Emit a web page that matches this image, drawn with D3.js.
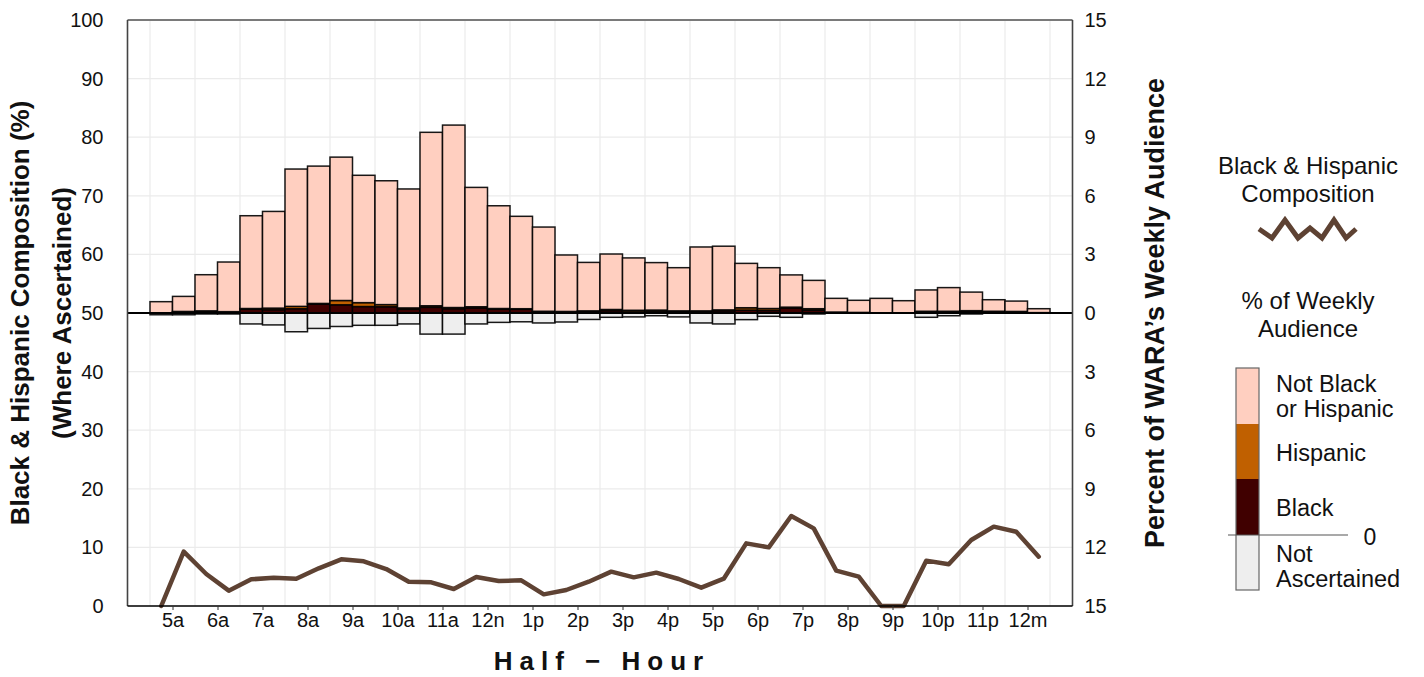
<!DOCTYPE html>
<html><head><meta charset="utf-8">
<script src="https://cdn.jsdelivr.net/npm/d3@7"></script>
<style>
html,body{margin:0;padding:0;background:#fff;}
svg{display:block;font-family:"Liberation Sans",Arial,Helvetica,sans-serif;}
</style></head>
<body>
<svg id="chart" width="1424" height="677"></svg>
<script>
// half-hour slots (start hour, 5 = 5:00a ... 24.5 = 12:30a)
const slots = d3.range(40).map(i => 5 + i * 0.5);
const hourLabels = ["5a","6a","7a","8a","9a","10a","11a","12n","1p","2p","3p","4p","5p","6p","7p","8p","9p","10p","11p","12m"];
const hourTicks = d3.range(5, 25);

// % of weekly audience (right axis)
const black = [0,0.06,0.08,0.06,0.20,0.17,0.22,0.46,0.42,0.33,0.32,0.19,0.29,0.22,0.26,0.20,0.19,0.07,0.06,0.09,
               0.12,0.06,0.08,0.09,0.09,0.11,0.15,0.13,0.26,0.14,0.03,0.02,0,0,0.06,0.07,0.10,0.07,0.06,0.02];
const hispanic = [0,0.02,0.03,0.01,0.03,0.08,0.12,0.03,0.22,0.20,0.11,0.07,0.08,0.06,0.06,0.03,0.03,0.02,0.02,0.02,
               0.06,0.08,0.07,0.02,0.02,0.05,0.12,0.10,0.04,0.08,0.02,0.01,0,0,0.03,0.02,0.02,0.02,0.02,0];
const notBlackHispanic = [0.58,0.77,1.85,2.54,4.75,4.95,7.03,7.03,7.34,6.52,6.34,6.09,8.88,9.34,6.11,5.26,4.73,4.31,2.89,2.48,
               2.84,2.68,2.43,2.21,3.27,3.26,2.27,2.09,1.65,1.45,0.70,0.62,0.75,0.63,1.09,1.21,0.95,0.59,0.53,0.20];
const notAscertained = [0.09,0.09,0.05,0.05,0.56,0.61,0.96,0.79,0.69,0.63,0.63,0.56,1.08,1.08,0.56,0.48,0.45,0.51,0.46,0.33,
               0.22,0.20,0.14,0.20,0.51,0.56,0.34,0.17,0.22,0.05,0,0,0,0,0.22,0.14,0.05,0,0,0];
// Black & Hispanic composition (left axis, %)
const composition = [0,9.27,5.46,2.62,4.55,4.84,4.66,6.43,7.96,7.62,6.31,4.15,4.04,2.90,4.95,4.27,4.38,1.99,2.73,4.15,
               5.86,4.89,5.69,4.61,3.13,4.66,10.69,10.01,15.36,13.25,6.03,5.00,0,0,7.74,7.11,11.26,13.54,12.68,8.42];

const leftTicks = d3.range(0, 101, 10);
const rightTicks = [-15,-12,-9,-6,-3,0,3,6,9,12,15];

const colors = {nbh:"#FFCFC0", hisp:"#C06000", black:"#400000", na:"#EEEEEE", line:"#5E4233"};

const svg = d3.select("#chart");
const L = 127.5, R = 1072.5, T = 20, B = 606;
const x = d3.scaleLinear().domain([4.5, 25.5]).range([L, R]);
const y = d3.scaleLinear().domain([0, 100]).range([B, T]);
const yp = d3.scaleLinear().domain([-15, 15]).range([B, T]);

// grid
const g = svg.append("g");
g.selectAll(".hg").data(leftTicks).join("line")
  .attr("x1", L).attr("x2", R).attr("y1", d => y(d)).attr("y2", d => y(d))
  .attr("stroke", "#ebebeb").attr("stroke-width", 1.2);
g.selectAll(".vg").data(d3.range(5, 26)).join("line")
  .attr("x1", d => x(d)).attr("x2", d => x(d)).attr("y1", T).attr("y2", B)
  .attr("stroke", "#ebebeb").attr("stroke-width", 1.2);

// bars
const bars = svg.append("g");
const bw = x(5.5) - x(5);
slots.forEach((s, i) => {
  const segs = [
    {lo: 0, hi: black[i], c: colors.black},
    {lo: black[i], hi: black[i] + hispanic[i], c: colors.hisp},
    {lo: black[i] + hispanic[i], hi: black[i] + hispanic[i] + notBlackHispanic[i], c: colors.nbh},
    {lo: -notAscertained[i], hi: 0, c: colors.na}
  ].filter(d => d.hi - d.lo > 0);
  bars.selectAll(null).data(segs).join("rect")
    .attr("x", x(s)).attr("width", bw)
    .attr("y", d => yp(d.hi)).attr("height", d => yp(d.lo) - yp(d.hi))
    .attr("fill", d => d.c).attr("stroke", "#000").attr("stroke-width", 1.5).attr("stroke-opacity", 0.9);
});

// baseline at 0%
svg.append("line").attr("x1", L).attr("x2", R).attr("y1", yp(0)).attr("y2", yp(0))
  .attr("stroke", "#000").attr("stroke-width", 2.2);

// composition line
const line = d3.line().x((d, i) => x(slots[i] + 0.25)).y(d => y(d));
svg.append("path").datum(composition).attr("d", line)
  .attr("fill", "none").attr("stroke", colors.line).attr("stroke-width", 4.5)
  .attr("stroke-linejoin", "round").attr("stroke-linecap", "round");

// panel border
svg.append("line").attr("x1", L).attr("x2", R).attr("y1", T).attr("y2", T).attr("stroke", "#7a7a7a").attr("stroke-width", 2);
svg.append("line").attr("x1", L).attr("x2", L).attr("y1", T).attr("y2", B).attr("stroke", "#444").attr("stroke-width", 1.6);
svg.append("line").attr("x1", R).attr("x2", R).attr("y1", T).attr("y2", B).attr("stroke", "#444").attr("stroke-width", 1.6);
svg.append("line").attr("x1", L).attr("x2", R).attr("y1", B).attr("y2", B).attr("stroke", "#000").attr("stroke-width", 1.5);

// axes
const fs = 20;
const FF = "Liberation Sans, Arial, sans-serif";
const la = svg.append("g").attr("transform", `translate(${L},0)`)
  .call(d3.axisLeft(y).tickValues(leftTicks).tickSize(0).tickPadding(24));
la.select(".domain").remove();
la.selectAll("text").attr("font-size", fs).attr("fill", "#111").attr("font-family", FF);

const ra = svg.append("g").attr("transform", `translate(${R},0)`)
  .call(d3.axisRight(yp).tickValues(rightTicks).tickFormat(d => Math.abs(d)).tickSize(0).tickPadding(12));
ra.select(".domain").remove();
ra.selectAll("text").attr("font-size", fs).attr("fill", "#111").attr("font-family", FF);

const ba = svg.append("g").attr("transform", `translate(0,${B})`)
  .call(d3.axisBottom(x).tickValues(hourTicks.map(h => h + 0.5)).tickFormat((d, i) => hourLabels[i]).tickSize(4).tickPadding(3));
ba.select(".domain").remove();
ba.selectAll("text").attr("font-size", fs).attr("fill", "#111").attr("font-family", FF);
ba.selectAll("line").attr("stroke", "#333");

// titles
svg.append("text").attr("x", (L + R) / 2 + 2).attr("y", 670).attr("text-anchor", "middle")
  .attr("font-size", 26).attr("font-weight", "bold").attr("letter-spacing", "7px").attr("fill", "#111")
  .text("Half − Hour");
svg.append("text").attr("transform", `translate(29,${(T + B) / 2}) rotate(-90)`).attr("text-anchor", "middle")
  .attr("font-size", 26).attr("font-weight", "bold").attr("fill", "#111")
  .text("Black & Hispanic Composition (%)");
svg.append("text").attr("transform", `translate(71,${(T + B) / 2}) rotate(-90)`).attr("text-anchor", "middle")
  .attr("font-size", 26).attr("font-weight", "bold").attr("fill", "#111")
  .text("(Where Ascertained)");
svg.append("text").attr("transform", `translate(1164,${(T + B) / 2}) rotate(-90)`).attr("text-anchor", "middle")
  .attr("font-size", 27).attr("font-weight", "bold").attr("fill", "#111")
  .text("Percent of WARA’s Weekly Audience");

// legend
const lg = svg.append("g").attr("font-size", 24).attr("fill", "#111");
lg.append("text").attr("x", 1308).attr("y", 174).attr("text-anchor", "middle").text("Black & Hispanic");
lg.append("text").attr("x", 1308).attr("y", 202).attr("text-anchor", "middle").text("Composition");
const zz = [[1259,229],[1272,238],[1285,220],[1298,238],[1310,228],[1322,238],[1334,220],[1346,238],[1356,229]];
lg.append("path").attr("d", d3.line()(zz)).attr("fill", "none").attr("stroke", colors.line)
  .attr("stroke-width", 5).attr("stroke-linejoin", "miter").attr("stroke-linecap", "butt");
lg.append("text").attr("x", 1308).attr("y", 309).attr("text-anchor", "middle").text("% of Weekly");
lg.append("text").attr("x", 1308).attr("y", 337).attr("text-anchor", "middle").text("Audience");
const keys = [
  {c: colors.nbh, y0: 368, y1: 424},
  {c: colors.hisp, y0: 424, y1: 479},
  {c: colors.black, y0: 479, y1: 535},
  {c: colors.na, y0: 535, y1: 590}
];
lg.selectAll(".k").data(keys).join("rect").attr("x", 1236).attr("width", 23)
  .attr("y", d => d.y0).attr("height", d => d.y1 - d.y0).attr("fill", d => d.c);
lg.append("rect").attr("x", 1236).attr("y", 368).attr("width", 23).attr("height", 222)
  .attr("fill", "none").attr("stroke", "#666").attr("stroke-width", 1.2);
lg.append("line").attr("x1", 1228).attr("x2", 1348).attr("y1", 535).attr("y2", 535).attr("stroke", "#555").attr("stroke-width", 1.2);
lg.append("text").attr("x", 1370).attr("y", 545).attr("text-anchor", "middle").attr("font-size", 23).text("0");
const lt = [["Not Black",392],["or Hispanic",417],["Hispanic",461],["Black",516],["Not",562],["Ascertained",587]];
lg.selectAll(".lt").data(lt).join("text").attr("x", 1276).attr("y", d => d[1]).attr("font-size", 23.5).text(d => d[0]);
</script>
</body></html>
